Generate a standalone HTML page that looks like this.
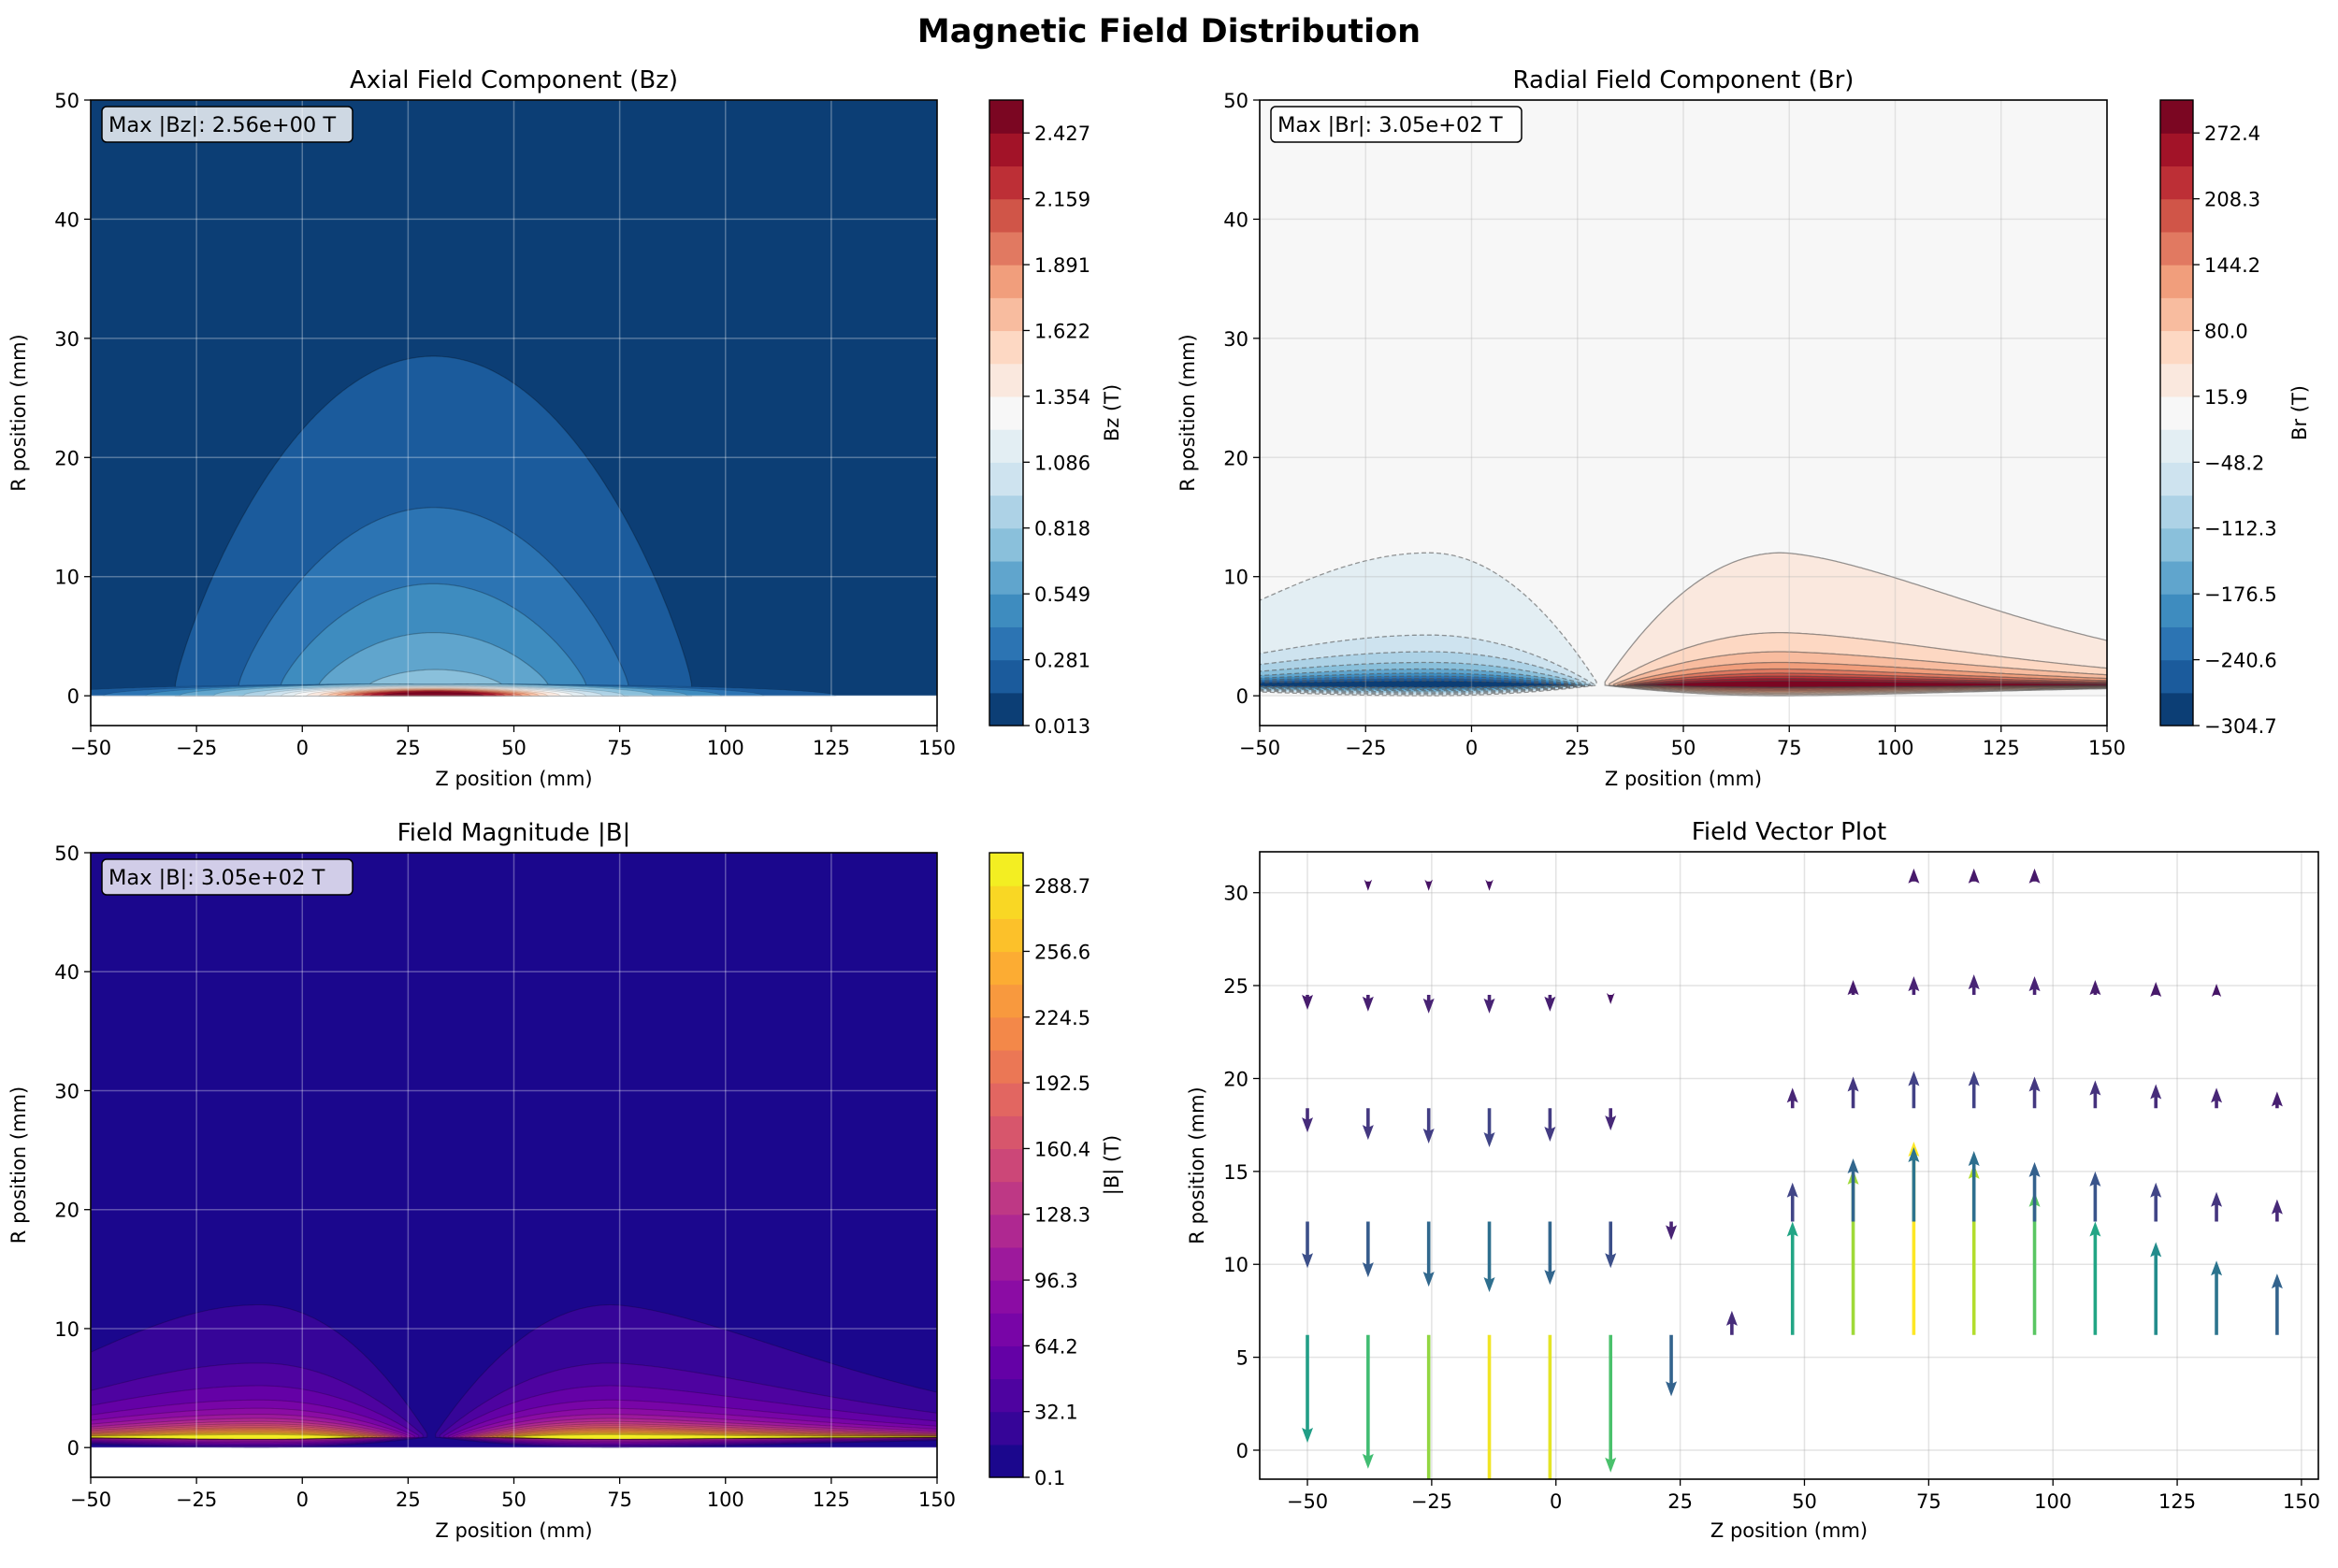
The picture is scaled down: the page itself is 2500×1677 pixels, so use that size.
<!DOCTYPE html>
<html><head><meta charset="utf-8"><title>Magnetic Field Distribution</title>
<style>
html,body{margin:0;padding:0;background:#fff;}
svg text{font-family:"DejaVu Sans","Liberation Sans",sans-serif;fill:#000;}
</style></head>
<body>
<svg id="chart" xmlns="http://www.w3.org/2000/svg" width="2500" height="1672" viewBox="0 0 2500 1672">
<rect x="0" y="0" width="2500" height="1672" fill="#fff"/>
<text x="1250" y="45" font-size="35" font-weight="bold" text-anchor="middle">Magnetic Field Distribution</text>
</svg>
<script>
// ---------- data ----------
const zTicks=[-50,-25,0,25,50,75,100,125,150];
const rTicks=[0,10,20,30,40,50];
const qTicksY=[0,5,10,15,20,25,30];
const bzCbTicks=['0.013','0.281','0.549','0.818','1.086','1.354','1.622','1.891','2.159','2.427'];
const brCbTicks=['−304.7','−240.6','−176.5','−112.3','−48.2','15.9','80.0','144.2','208.3','272.4'];
const bmCbTicks=['0.1','32.1','64.2','96.3','128.3','160.4','192.5','224.5','256.6','288.7'];
// Bz contour domes (z extents, peak radius)
const bzDomeLeft=[-30,-15,-5,4,16];
const bzDomeRight=[92,77,67,58,47];
const bzDomePeak=[28.5,15.8,9.4,5.3,2.2];
const bzLensHalf=[95,78,68,60,52,45,40,36,33,30,27,25,23,21,19,17,15,12];
const bzLensHeight=[1.0,1.0,1.0,1.0,1.0,0.9,0.85,0.8,0.75,0.7,0.65,0.6,0.55,0.5,0.45,0.42,0.38,0.3];
// Br / |B| lobe contour peak radii
const brLeftPeaks=[12,5.1,3.7,2.8,2.25,1.9,1.65,1.45,1.25];
const brRightPeaks=[12,5.3,3.7,2.8,2.25,1.9,1.65,1.45,1.25];
const bmagPeaks=[12,7.1,5.2,4.0,3.3,2.8,2.45,2.2,2.0,1.85,1.7,1.6,1.5,1.4,1.3,1.22,1.15,1.08];
// quiver
const quiverZ=[-50,-37.8,-25.6,-13.4,-1.2,11,23.2,35.4,47.6,59.8,72,84.1,96.3,108.5,120.7,132.9,145.1];
const quiverR=[6.2,12.3,18.4,24.5,30.6];
const drRow1=[-5.8,-7.2,-8.7,-10.2,-10.0,-7.4,-3.3,1.3,6.1,8.9,10.4,9.2,7.7,6.1,5.0,4.0,3.3];
const drRow2=[-2.5,-3.0,-3.5,-3.8,-3.4,-2.5,-1.0,null,2.1,3.4,4.0,3.8,3.2,2.7,2.1,1.6,1.2];
const drRow3=[-1.3,-1.7,-1.9,-2.1,-1.8,-1.2,null,null,1.1,1.7,2.0,2.0,1.7,1.5,1.3,1.1,0.9];
const drRow4=[-0.8,-0.9,-1.0,-1.0,-0.9,-0.5,null,null,null,0.8,1.0,1.1,1.0,0.8,0.7,0.6,null];
const drRow5=[null,-0.5,-0.5,-0.5,null,null,null,null,null,null,0.7,0.7,0.7,null,null,null,null];

// ---------- helpers ----------
const NS='http://www.w3.org/2000/svg';
const svg=document.getElementById('chart');
function mk(tag,attrs,parent,name){
  const e=document.createElementNS(NS,tag);
  for(const k in attrs) e.setAttribute(k,attrs[k]);
  
  
  (parent||svg).appendChild(e);
  return e;
}
function txt(x,y,s,size,anchor,parent,name,extra){
  const t=mk('text',Object.assign({x:x,y:y,'font-size':size,'text-anchor':anchor},extra||{}),parent,name);
  t.textContent=s; return t;
}
function hex(h){return [parseInt(h.substr(1,2),16),parseInt(h.substr(3,2),16),parseInt(h.substr(5,2),16)];}
function interp(stops,t){
  t=Math.max(0,Math.min(1,t));
  const n=stops.length-1, p=t*n, i=Math.min(n-1,Math.floor(p)), f=p-i;
  const a=hex(stops[i]),b=hex(stops[i+1]);
  return 'rgb('+a.map((v,k)=>Math.round(v+(b[k]-v)*f)).join(',')+')';
}
const RDBU_R=['#053061','#2166ac','#4393c3','#92c5de','#d1e5f0','#f7f7f7','#fddbc7','#f4a582','#d6604d','#b2182b','#67001f'];
const PLASMA=['#0d0887','#41049d','#6a00a8','#8f0da4','#b12a90','#cc4778','#e16462','#f2844b','#fca636','#fcce25','#f0f921'];
const VIRIDIS=['#440154','#482475','#414487','#355f8d','#2a788e','#21918c','#22a884','#44bf70','#7ad151','#bddf26','#fde725'];
const NB=19;
function band(stops,i){return interp(stops,(i+0.5)/NB);}
function fmt(v){return (v<0?'−':'')+Math.abs(v);}

function makeAxes(x0,y0,x1,y1,zmin,zmax,rmin,rmax){
  return {x0,y0,x1,y1,sx:z=>x0+(z-zmin)/(zmax-zmin)*(x1-x0),sy:r=>y1-(r-rmin)/(rmax-rmin)*(y1-y0)};
}
let clipId=0;
function clipFor(ax){
  const id='clip'+(clipId++);
  const cp=mk('clipPath',{id:id},svg,'axes-clip');
  mk('rect',{x:ax.x0,y:ax.y0,width:ax.x1-ax.x0,height:ax.y1-ax.y0},cp,'axes-clip-rect');
  return id;
}
function grid(ax,xt,yt,g,color,op){
  xt.forEach(v=>mk('line',{x1:ax.sx(v),x2:ax.sx(v),y1:ax.y0,y2:ax.y1,stroke:color,'stroke-opacity':op,'stroke-width':1.5},g,'x-grid-line'));
  yt.forEach(v=>mk('line',{x1:ax.x0,x2:ax.x1,y1:ax.sy(v),y2:ax.sy(v),stroke:color,'stroke-opacity':op,'stroke-width':1.5},g,'y-grid-line'));
}
function frame(ax,xt,yt,title,prefix){
  const g=mk('g',{},svg,prefix+'-frame');
  mk('rect',{x:ax.x0,y:ax.y0,width:ax.x1-ax.x0,height:ax.y1-ax.y0,fill:'none',stroke:'#000','stroke-width':1.6},g,prefix+'-spines');
  xt.forEach(v=>{const x=ax.sx(v);
    mk('line',{x1:x,x2:x,y1:ax.y1,y2:ax.y1+7,stroke:'#000','stroke-width':1.3},g,'x-tick');
    txt(x,ax.y1+31,fmt(v),21,'middle',g,'x-tick-label');});
  yt.forEach(v=>{const y=ax.sy(v);
    mk('line',{x1:ax.x0-7,x2:ax.x0,y1:y,y2:y,stroke:'#000','stroke-width':1.3},g,'y-tick');
    txt(ax.x0-12,y+8,fmt(v),21,'end',g,'y-tick-label');});
  txt((ax.x0+ax.x1)/2,ax.y1+64,'Z position (mm)',21,'middle',g,prefix+'-x-axis-title');
  txt(0,0,'R position (mm)',21,'middle',g,prefix+'-y-axis-title',{transform:'translate('+(ax.x0-70)+','+((ax.y0+ax.y1)/2)+') rotate(-90)'});
  txt((ax.x0+ax.x1)/2,ax.y0-13,title,26,'middle',g,prefix+'-title');
}
function colorbar(x0,y0,x1,y1,stops,labels,label,prefix,labelX){
  const g=mk('g',{},svg,prefix+'-colorbar');
  const h=(y1-y0)/NB;
  for(let i=0;i<NB;i++) mk('rect',{x:x0,y:y1-(i+1)*h,width:x1-x0,height:h+0.6,fill:band(stops,i)},g,'colorbar-band');
  mk('rect',{x:x0,y:y0,width:x1-x0,height:y1-y0,fill:'none',stroke:'#000','stroke-width':1.4},g,'colorbar-outline');
  labels.forEach((s,i)=>{const y=y1-2*i*h;
    mk('line',{x1:x1,x2:x1+7,y1:y,y2:y,stroke:'#000','stroke-width':1.3},g,'colorbar-tick');
    txt(x1+12,y+8,s,21,'start',g,'colorbar-tick-label');});
  txt(0,0,label,21,'middle',g,prefix+'-colorbar-title',{transform:'translate('+labelX+','+((y0+y1)/2)+') rotate(-90)'});
}
function annot(ax,s,prefix){
  const g=mk('g',{},svg,prefix+'-annotation');
  mk('rect',{x:ax.x0+12,y:ax.y0+7,width:268,height:38,rx:5,fill:'#fff','fill-opacity':0.8,stroke:'#000','stroke-width':1.5},g,'annotation-box');
  txt(ax.x0+19,ax.y0+34,s,22.5,'start',g,'annotation-text');
}
function polyPath(ax,pts){return 'M'+pts.map(p=>ax.sx(p[0]).toFixed(1)+','+ax.sy(p[1]).toFixed(1)).join('L')+'Z';}

// lobe shape: each side is either a parabola reaching zero at distance D, or a stretched gaussian
const LOBE_L={zPk:-10,left:{t:'g',w:60,p:2},right:{t:'p',D:40}};
const LOBE_R={zPk:73,left:{t:'p',D:42},right:{t:'g',w:73,p:1.57}};
function sideF(side,d,s){
  if(side.t==='p'){const u=d/(side.D*s); return u>=1?-1:1-u*u;}
  return Math.exp(-Math.pow(d/(side.w*s),side.p));
}
function lobePts(lobe,pk,k,shrink){
  const r0=0.9, s=1-shrink*k, g=Math.max(0.2,1-k*0.12), up=[], lo=[];
  for(let z=-70;z<=170;z+=0.5){
    const d=z-lobe.zPk;
    const f=d<0?sideF(lobe.left,-d,s):sideF(lobe.right,d,s);
    if(f<0) continue;
    up.push([z,r0+(pk-r0)*f]);
    lo.push([z,Math.max(0,r0*(1-f*g))]);
  }
  return up.concat(lo.reverse());
}

// ---------- Panel 1: Bz ----------
(function(){
  const ax=makeAxes(97,107,1002,776,-50,150,-2.5,50);
  const cid=clipFor(ax);
  const g=mk('g',{'clip-path':'url(#'+cid+')'},svg,'bz-contour-plot');
  mk('rect',{x:ax.x0,y:ax.sy(50),width:ax.x1-ax.x0,height:ax.sy(0)-ax.sy(50),fill:band(RDBU_R,0)},g,'bz-background-level');
  bzDomePeak.forEach((pk,i)=>{
    const L=bzDomeLeft[i],R=bzDomeRight[i],c=(L+R)/2,hw=(R-L)/2,pts=[[L,0],[L,1]];
    for(let z=L;z<=R;z+=0.5){const u=(z-c)/hw;pts.push([z,1+(pk-1)*Math.pow(Math.max(0,1-u*u),0.85)]);}
    pts.push([R,1],[R,0]);
    mk('path',{d:polyPath(ax,pts),fill:band(RDBU_R,i+1),stroke:'#000','stroke-opacity':0.25,'stroke-width':1.2},g,'bz-contour-level');
  });
  bzLensHalf.forEach((hw,i)=>{
    const h=bzLensHeight[i],c=31,pts=[];
    for(let z=c-hw;z<=c+hw;z+=0.5){const u=(z-c)/hw;pts.push([z,h*Math.sqrt(Math.max(0,1-u*u))]);}
    mk('path',{d:polyPath(ax,pts),fill:band(RDBU_R,i+1),stroke:'#000','stroke-opacity':0.15,'stroke-width':0.8},g,'bz-contour-level');
  });
  grid(ax,zTicks,rTicks,g,'#ffffff',0.3);
  frame(ax,zTicks,rTicks,'Axial Field Component (Bz)','bz');
  annot(ax,'Max |Bz|: 2.56e+00 T','bz');
  colorbar(1058,107,1094,776,RDBU_R,bzCbTicks,'Bz (T)','bz',1196);
})();

// ---------- Panel 2: Br ----------
(function(){
  const ax=makeAxes(1347,107,2253,776,-50,150,-2.5,50);
  const cid=clipFor(ax);
  const g=mk('g',{'clip-path':'url(#'+cid+')'},svg,'br-contour-plot');
  mk('rect',{x:ax.x0,y:ax.sy(50),width:ax.x1-ax.x0,height:ax.sy(0)-ax.sy(50),fill:band(RDBU_R,9)},g,'br-background-level');
  brLeftPeaks.forEach((pk,k)=>{
    mk('path',{d:polyPath(ax,lobePts(LOBE_L,pk,k,0.02)),fill:band(RDBU_R,8-k),stroke:'#555','stroke-opacity':0.6,'stroke-width':1.3,'stroke-dasharray':'5,3'},g,'br-negative-contour');
  });
  brRightPeaks.forEach((pk,k)=>{
    mk('path',{d:polyPath(ax,lobePts(LOBE_R,pk,k,0.025)),fill:band(RDBU_R,10+k),stroke:'#444','stroke-opacity':0.55,'stroke-width':1.3},g,'br-positive-contour');
  });
  grid(ax,zTicks,rTicks,g,'#b0b0b0',0.3);
  frame(ax,zTicks,rTicks,'Radial Field Component (Br)','br');
  annot(ax,'Max |Br|: 3.05e+02 T','br');
  colorbar(2310,107,2345,776,RDBU_R,brCbTicks,'Br (T)','br',2466);
})();

// ---------- Panel 3: |B| ----------
(function(){
  const ax=makeAxes(97,912,1002,1580,-50,150,-2.5,50);
  const cid=clipFor(ax);
  const g=mk('g',{'clip-path':'url(#'+cid+')'},svg,'bmag-contour-plot');
  mk('rect',{x:ax.x0,y:ax.sy(50),width:ax.x1-ax.x0,height:ax.sy(0)-ax.sy(50),fill:band(PLASMA,0)},g,'bmag-background-level');
  [LOBE_L,LOBE_R].forEach(lobe=>{
    bmagPeaks.forEach((pk,k)=>{
      mk('path',{d:polyPath(ax,lobePts(lobe,pk,k,0.025)),fill:band(PLASMA,k+1),stroke:'#000','stroke-opacity':0.2,'stroke-width':1.1},g,'bmag-contour-level');
    });
  });
  grid(ax,zTicks,rTicks,g,'#ffffff',0.3);
  frame(ax,zTicks,rTicks,'Field Magnitude |B|','bmag');
  annot(ax,'Max |B|: 3.05e+02 T','bmag');
  colorbar(1058,912,1094,1580,PLASMA,bmCbTicks,'|B| (T)','bmag',1196);
})();

// ---------- Panel 4: quiver ----------
(function(){
  const ax=makeAxes(1347,911,2479,1582,-59.6,153.4,-1.56,32.2);
  const cid=clipFor(ax);
  const g=mk('g',{'clip-path':'url(#'+cid+')'},svg,'vector-plot');
  grid(ax,zTicks,qTicksY,g,'#b0b0b0',0.35);
  const rows=[drRow1,drRow2,drRow3,drRow4,drRow5];
  let maxM=0; rows.forEach(r=>r.forEach(v=>{if(v!==null)maxM=Math.max(maxM,Math.abs(v));}));
  rows.forEach((row,ri)=>{
    row.forEach((dr,zi)=>{
      if(dr===null) return;
      const x=ax.sx(quiverZ[zi]), y0=ax.sy(quiverR[ri]), y1=ax.sy(quiverR[ri]+dr);
      const L=Math.abs(y1-y0), dir=y1<y0?-1:1;
      let hl=14, hw=6, sw=1.8;
      if(L<hl){const s=L/hl; hl=L; hw=hw*Math.max(0.6,s);}
      const yb=y1-dir*hl;
      const d='M'+(x-sw)+','+y0+'L'+(x-sw)+','+yb+'L'+(x-hw)+','+(yb-dir*2)+'L'+x+','+y1+'L'+(x+hw)+','+(yb-dir*2)+'L'+(x+sw)+','+yb+'L'+(x+sw)+','+y0+'Z';
      mk('path',{d:d,fill:interp(VIRIDIS,Math.abs(dr)/maxM)},g,'field-arrow');
    });
  });
  const fg=mk('g',{},svg,'vector-frame');
  mk('rect',{x:ax.x0,y:ax.y0,width:ax.x1-ax.x0,height:ax.y1-ax.y0,fill:'none',stroke:'#000','stroke-width':1.6},fg,'vector-spines');
  zTicks.forEach(v=>{const x=ax.sx(v);
    mk('line',{x1:x,x2:x,y1:ax.y1,y2:ax.y1+7,stroke:'#000','stroke-width':1.3},fg,'x-tick');
    txt(x,ax.y1+31,fmt(v),21,'middle',fg,'x-tick-label');});
  qTicksY.forEach(v=>{const y=ax.sy(v);
    mk('line',{x1:ax.x0-7,x2:ax.x0,y1:y,y2:y,stroke:'#000','stroke-width':1.3},fg,'y-tick');
    txt(ax.x0-12,y+8,fmt(v),21,'end',fg,'y-tick-label');});
  txt((ax.x0+ax.x1)/2,ax.y1+62,'Z position (mm)',21,'middle',fg,'vector-x-axis-title');
  txt(0,0,'R position (mm)',21,'middle',fg,'vector-y-axis-title',{transform:'translate('+(ax.x0-60)+','+((ax.y0+ax.y1)/2)+') rotate(-90)'});
  txt((ax.x0+ax.x1)/2,ax.y0-13,'Field Vector Plot',26,'middle',fg,'vector-title');
})();
</script>
</body></html>
